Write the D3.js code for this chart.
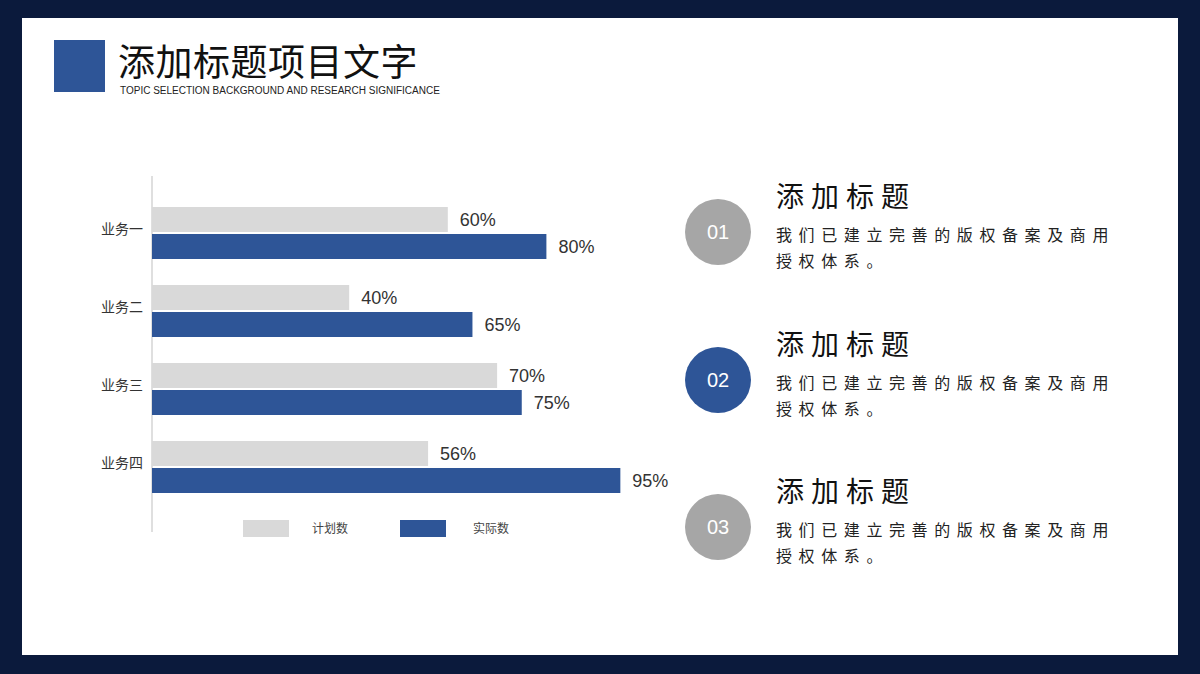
<!DOCTYPE html>
<html><head><meta charset="utf-8">
<script src="https://cdn.jsdelivr.net/npm/d3@7"></script>
<style>body{margin:0;background:#0b1a3c;font-family:"Noto Sans CJK SC","Noto Sans",sans-serif}</style>
</head><body>
<svg id="c" width="1200" height="674"></svg>
<script>
// chart data
var categories = ["业务一", "业务二", "业务三", "业务四"];
var planned = [60, 40, 70, 56];
var actual = [80, 65, 75, 95];
var legendNames = ["计划数", "实际数"];
var items = ["01", "02", "03"];

var svg = d3.select("#c");
var blue = "#2e5597", gray = "#d9d9d9";

svg.append("rect").attr("width", 1200).attr("height", 674).attr("fill", "#0b1a3c");
svg.append("rect").attr("x", 22).attr("y", 18).attr("width", 1156).attr("height", 637).attr("fill", "#fff");

// title
svg.append("rect").attr("x", 54).attr("y", 40).attr("width", 51).attr("height", 52).attr("fill", blue);
svg.append("text").attr("x", 118).attr("y", 76).attr("font-size", 37).attr("letter-spacing", 0.5)
  .attr("fill", "#111").text("添加标题项目文字");
svg.append("text").attr("x", 120).attr("y", 94).attr("font-size", 10).attr("fill", "#222")
  .attr("font-family", "Liberation Sans, Arial").text("TOPIC SELECTION BACKGROUND AND RESEARCH SIGNIFICANCE");

// scales
var x = d3.scaleLinear().domain([0, 100]).range([152, 645]);
var y = d3.scaleBand().domain(categories).range([194, 506]).paddingInner(0);

svg.append("line").attr("x1", 152).attr("x2", 152).attr("y1", 176).attr("y2", 532)
  .attr("stroke", "#bfbfbf");

var g = svg.append("g");
categories.forEach(function(c, i) {
  var top = y(c) + 13;
  [[planned[i], gray, 0], [actual[i], blue, 27]].forEach(function(d) {
    g.append("rect").attr("x", x(0)).attr("y", top + d[2]).attr("width", x(d[0]) - x(0))
      .attr("height", 25).attr("fill", d[1]);
    g.append("text").attr("x", x(d[0]) + 12).attr("y", top + d[2] + 19).attr("font-size", 18)
      .attr("fill", "#333").attr("font-family", "Liberation Sans, Arial").text(d[0] + "%");
  });
  g.append("text").attr("x", 143).attr("y", top + 27).attr("text-anchor", "end")
    .attr("font-size", 14).attr("fill", "#333").text(c);
});

// legend
[[243, gray, 312], [400, blue, 473]].forEach(function(l, i) {
  svg.append("rect").attr("x", l[0]).attr("y", 520).attr("width", 46).attr("height", 17).attr("fill", l[1]);
  svg.append("text").attr("x", l[2]).attr("y", 533).attr("font-size", 12).attr("fill", "#444").text(legendNames[i]);
});

// right side items
var cy = [232, 380, 527];
items.forEach(function(n, i) {
  svg.append("circle").attr("cx", 718).attr("cy", cy[i]).attr("r", 33).attr("fill", i == 1 ? blue : "#a6a6a6");
  svg.append("text").attr("x", 718).attr("y", cy[i] + 7).attr("text-anchor", "middle").attr("font-size", 20)
    .attr("fill", "#fff").attr("font-family", "Liberation Sans, Arial").text(n);
  svg.append("text").attr("x", 776).attr("y", cy[i] - 25).attr("font-size", 28).attr("letter-spacing", 7)
    .attr("fill", "#111").text("添加标题");
  svg.append("text").attr("x", 776).attr("y", cy[i] + 9).attr("font-size", 16).attr("letter-spacing", 6.6)
    .attr("fill", "#222").text("我们已建立完善的版权备案及商用");
  svg.append("text").attr("x", 776).attr("y", cy[i] + 35).attr("font-size", 16).attr("letter-spacing", 6.6)
    .attr("fill", "#222").text("授权体系。");
});
</script>
</body></html>
